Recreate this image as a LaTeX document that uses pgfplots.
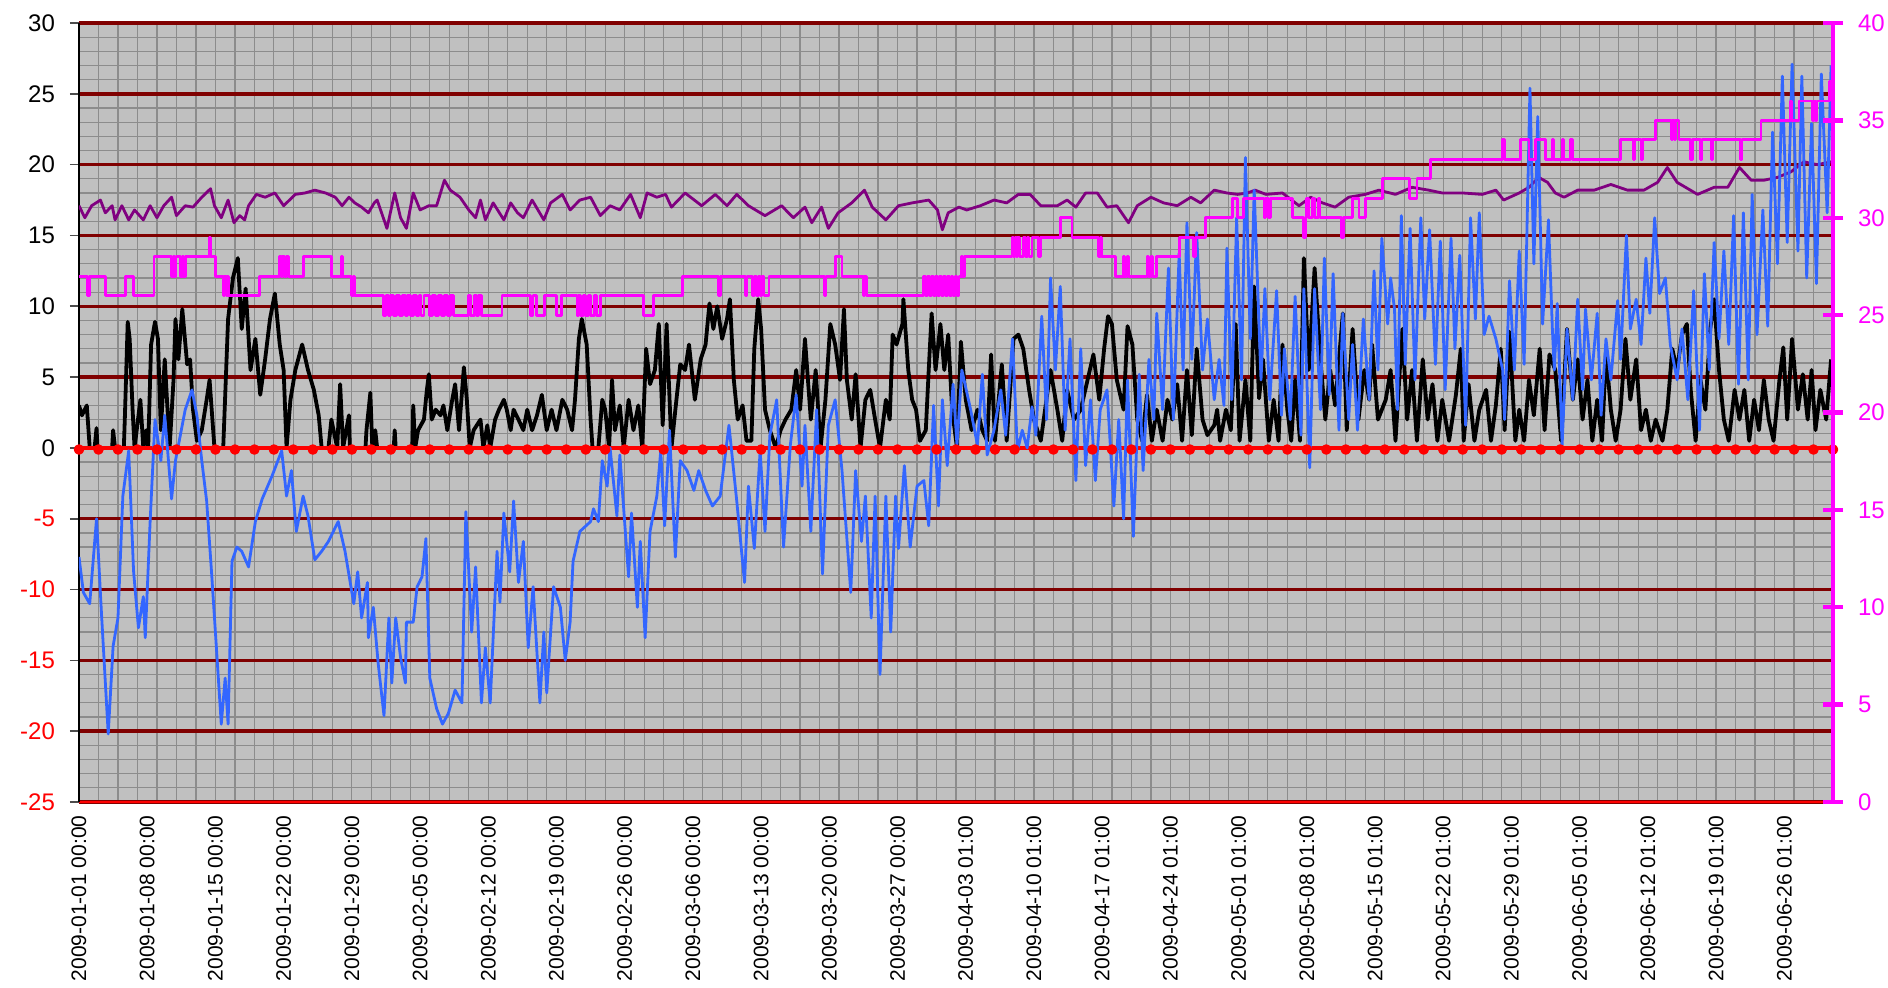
\documentclass[border=0pt]{standalone}
\usepackage{fontspec}
\setmainfont{Liberation Sans}
\usepackage{pgfplots}
\pgfplotsset{compat=1.18}
\definecolor{silverbg}{HTML}{C0C0C0}
\definecolor{gridgray}{HTML}{8C8C8C}
\definecolor{darkred}{HTML}{800000}
\definecolor{bluel}{HTML}{3366FF}
\definecolor{purp}{HTML}{800080}
\definecolor{magen}{HTML}{FF00FF}
\begin{document}
\begin{tikzpicture}
\begin{axis}[
  scale only axis, width=877pt, height=389.5pt,
  xmin=0, xmax=180, ymin=-25, ymax=30,
  axis background/.style={fill=silverbg},
  axis x line*=bottom, axis y line*=left,
  x axis line style={red, line width=0.6pt, -},
  y axis line style={black, line width=0.8pt, -},
  xtick={0,7,...,175},
  xticklabels={2009-01-01 00:00,2009-01-08 00:00,2009-01-15 00:00,2009-01-22 00:00,2009-01-29 00:00,2009-02-05 00:00,2009-02-12 00:00,2009-02-19 00:00,2009-02-26 00:00,2009-03-06 00:00,2009-03-13 00:00,2009-03-20 00:00,2009-03-27 00:00,2009-04-03 01:00,2009-04-10 01:00,2009-04-17 01:00,2009-04-24 01:00,2009-05-01 01:00,2009-05-08 01:00,2009-05-15 01:00,2009-05-22 01:00,2009-05-29 01:00,2009-06-05 01:00,2009-06-12 01:00,2009-06-19 01:00,2009-06-26 01:00},
  x tick label style={rotate=90, anchor=east, inner sep=2pt, font=\fontsize{10.5}{12}\selectfont},
  xtick style={draw=none},
  minor xtick={0,2,...,180},
  minor x tick style={draw=none},
  xminorgrids=true,
  ytick={-25,-20,...,30},
  yticklabels={\textcolor{red}{-25},\textcolor{red}{-20},\textcolor{red}{-15},\textcolor{red}{-10},\textcolor{red}{-5},0,5,10,15,20,25,30},
  y tick label style={font=\fontsize{12}{14}\selectfont, xshift=-4pt},
  minor ytick={-24,...,29},
  minor y tick style={draw=none},
  ytick style={black!70, line width=0.8pt},
  yminorgrids=true, ymajorgrids=true,
  tick align=outside,
  major tick length=4.5pt,
  minor grid style={gridgray, line width=0.6pt},
  major grid style={darkred, line width=1.7pt},
  clip=true,
  every axis plot/.append style={line join=round},
]
% purple
\addplot[purp, line width=1.4pt] coordinates {
(0,17.1) (0.6,16.25) (1.3,17.1) (2.2,17.5) (2.7,16.6) (3.4,17.1) (3.7,16.1) (4.4,17.1) (5.1,16.1) (5.7,16.8) (6.6,16.1) (7.3,17.1) (8,16.25) (8.7,17.1) (9.5,17.7) (10,16.4) (10.9,17.1) (11.7,17) (12.6,17.7) (13.5,18.3) (13.9,17.1) (14.6,16.25) (15.3,17.5) (15.9,15.9) (16.5,16.4) (17,16.1) (17.4,17.1) (18.2,17.9) (19.1,17.7) (20.1,18) (21,17.1) (22.2,17.9) (23.2,18) (24.2,18.2) (25.3,18) (26.3,17.7) (27,17.1) (27.7,17.7) (28.3,17.3) (29,17) (29.7,16.6) (30.3,17.3) (30.6,17.5) (31.6,15.5) (32.4,18) (33,16.25) (33.6,15.5) (34.3,18) (35,16.8) (35.9,17.1) (36.7,17.1) (37.5,18.9) (38.1,18.2) (39.1,17.7) (40,16.8) (40.7,16.25) (41.2,17.5) (41.7,16.1) (42.5,17.3) (43.6,16.1) (44.3,17.3) (45,16.6) (45.6,16.25) (46.5,17.5) (47.7,16.1) (48.4,17.3) (49.6,17.9) (50.4,16.8) (51.4,17.5) (52.5,17.7) (53.5,16.4) (54.5,17.1) (55.5,16.8) (56.6,17.9) (57.6,16.25) (58.3,18) (59.3,17.7) (60.2,17.9) (60.8,17) (62.2,18) (63.9,17.1) (65.3,17.9) (66.5,17.1) (67.5,17.9) (68.7,17.1) (70.4,16.4) (72.1,17.1) (73.3,16.25) (74.5,17) (75.2,15.9) (76.2,17) (76.9,15.5) (77.9,16.6) (79.3,17.3) (80.6,18.2) (81.4,17) (82.8,16.1) (84.1,17.1) (85.5,17.3) (87.2,17.5) (88.1,16.8) (88.6,15.4) (89.2,16.6) (90.3,17) (91.1,16.8) (92.5,17.1) (93.9,17.5) (95.2,17.3) (96.4,17.9) (97.6,17.9) (98.7,17.1) (100.4,17.1) (101.4,17.5) (102.3,17) (103.3,18) (104.5,18) (105.5,17) (106.5,17.1) (107.7,15.9) (108.6,17.1) (110,17.7) (111.3,17.3) (112.7,17.1) (114.1,17.7) (115.1,17.3) (116.5,18.2) (117.8,18) (118.9,17.9) (119.9,18) (120.7,18.2) (121.8,17.9) (123.5,18) (125.2,17.1) (126.4,17.7) (127.6,17.3) (128.9,17) (130.3,17.7) (132,17.9) (133.4,18.2) (135.1,17.9) (136.8,18.4) (138.5,18.2) (139.9,18) (142,18) (144,17.9) (145.4,18.2) (146.2,17.5) (147.8,18) (148.8,18.4) (149.8,19.1) (150.7,18.75) (151.5,18) (152.4,17.7) (153.8,18.2) (155.5,18.2) (157.2,18.6) (158.9,18.2) (160.6,18.2) (162,18.75) (163,19.8) (164,18.75) (166.1,17.9) (167.8,18.4) (169.2,18.4) (170.4,19.8) (171.6,18.9) (172.9,18.9) (174.3,19.1) (175.7,19.5) (177,20.2) (178.4,20) (179.8,20.2)
};
% black
\addplot[black, line width=1.9pt] coordinates {
(0,3) (0.3,2.3) (0.8,3) (1.1,0) (1.6,0) (1.8,1.4) (1.9,0) (3.4,0) (3.5,1.25) (3.7,0) (4.6,0) (4.7,2) (5,8.9) (5.2,7.7) (5.5,2.7) (5.7,0) (6.3,3.4) (6.6,0) (6.9,1.25) (7.1,0) (7.4,7.3) (7.8,8.9) (8.1,7.7) (8.4,1.25) (8.8,6.25) (9.3,0) (9.7,4.8) (9.9,9.1) (10.2,6.25) (10.6,9.8) (11.1,5.9) (11.4,6.25) (11.7,2.7) (12.1,0.5) (12.6,1.25) (13.1,3.4) (13.4,4.8) (13.9,0) (14.8,0) (15.3,9.1) (15.8,12) (16.3,13.4) (16.7,8.4) (17.1,11.25) (17.6,5.5) (18.1,7.7) (18.6,3.75) (19.1,6.25) (19.6,9.1) (20.1,10.9) (20.6,7.3) (21,5.5) (21.3,0) (21.7,3.4) (22.2,5.5) (22.9,7.3) (23.5,5.5) (24.1,4.1) (24.6,2.3) (24.9,0) (25.6,0) (25.9,2) (26.5,0) (26.8,4.5) (27.1,0) (27.7,2.3) (27.8,0) (29.4,0) (29.5,1.25) (29.9,3.9) (30.1,0) (30.4,1.25) (30.6,0) (32.3,0) (32.4,1.25) (32.5,0) (34.2,0) (34.3,3) (34.5,0) (34.8,1.25) (35.4,2) (35.7,4.1) (35.9,5.2) (36.2,2) (36.6,2.7) (37.1,2.3) (37.4,3) (37.8,1.25) (38.3,3.4) (38.6,4.5) (39,1.25) (39.5,5.7) (39.8,3.4) (40.1,0) (40.5,1.25) (41.2,2) (41.5,0) (41.9,1.6) (42.2,0) (42.7,2) (43.1,2.7) (43.6,3.4) (43.9,2.7) (44.3,1.25) (44.6,2.7) (45.1,2) (45.6,1.25) (46,2.7) (46.5,1.25) (47,2.3) (47.5,3.75) (48,1.25) (48.5,2.7) (49,1.25) (49.6,3.4) (50.1,2.7) (50.6,1.25) (50.9,3.4) (51.3,7.7) (51.6,9.1) (52.1,7.3) (52.5,2) (52.7,0) (53.3,0) (53.7,3.4) (54,2.7) (54.4,0) (54.7,4.8) (55,1.25) (55.5,3) (55.9,0) (56.4,3.4) (56.9,1.25) (57.4,3) (57.8,0) (58.2,7) (58.6,4.5) (59.1,5.5) (59.5,8.75) (59.9,1.6) (60.3,8.75) (60.8,0) (61.2,2.7) (61.7,5.9) (62.2,5.5) (62.6,7.3) (63.2,3.4) (63.8,6.25) (64.3,7.3) (64.7,10.2) (65.1,8.4) (65.5,10) (66,7.7) (66.5,9.1) (66.8,10.5) (67.2,4.8) (67.6,2) (68.1,3) (68.5,0.5) (69,0.5) (69.3,7) (69.7,10.5) (70,8.4) (70.4,2.7) (70.9,1.25) (71.5,0) (72,1.25) (72.5,2) (73.1,2.7) (73.6,5.5) (74,2.7) (74.5,7.7) (75.1,2) (75.6,5.5) (76.1,0) (76.6,3.4) (77.1,8.75) (77.6,7.3) (78.1,4.8) (78.5,9.8) (78.8,4.8) (79.3,2) (79.7,5.2) (80.2,0) (80.7,3.4) (81.2,4.1) (81.7,2) (82.2,0) (82.8,3.4) (83.2,2) (83.5,8) (83.9,7.3) (84.5,8.75) (84.6,10.5) (85.1,5.5) (85.5,3.4) (85.9,2.7) (86.3,0.5) (86.9,1.25) (87.2,5.5) (87.5,9.5) (87.9,5.5) (88.4,8.75) (88.8,5.5) (89.2,8) (89.6,2.7) (90.1,0) (90.5,7.5) (91,3.4) (91.6,1.25) (92.2,2.7) (92.7,1.25) (93.2,0.5) (93.6,6.6) (94,0.5) (94.7,5.9) (95.2,0.5) (95.9,7.7) (96.4,8) (96.9,7) (97.5,4.1) (98,2) (98.7,0.5) (99.2,3) (99.7,5.5) (100.4,2.7) (100.9,0.5) (101.4,4.1) (102.1,2) (102.8,2.7) (103.5,4.8) (104.1,6.6) (104.7,3.4) (105.2,7) (105.6,9.3) (106,8.75) (106.5,4.8) (107.2,2.7) (107.6,8.6) (108.1,7.3) (108.6,2) (109.1,0.5) (109.6,3.75) (110.1,0.5) (110.6,2.7) (111.2,0.5) (111.7,3.4) (112.2,2) (112.7,4.5) (113.2,0.5) (113.7,5.5) (114.2,0.9) (114.7,7) (115.3,2) (115.8,0.9) (116.5,1.6) (116.8,2.7) (117.1,0.5) (117.7,2.7) (118.2,1.25) (118.7,8.75) (119.1,0.5) (119.7,4.8) (120.2,0.5) (120.6,11.4) (121.1,3.5) (121.5,6.25) (122.1,0.5) (122.6,3.4) (123.1,0.5) (123.5,7.3) (124,2.7) (124.4,0.5) (124.8,4.8) (125.3,0.5) (125.7,13.4) (126.2,5.5) (126.8,12.7) (127.4,6.25) (127.9,2) (128.4,5.5) (128.9,3) (129.7,9.5) (130.1,1.25) (130.7,8.4) (131.3,2) (131.9,5.5) (132.4,3.4) (132.7,7.3) (133.3,2) (134.1,3.4) (134.6,5.5) (135.1,0.5) (135.8,8.4) (136.3,2) (136.8,5.5) (137.3,0.5) (137.9,6.25) (138.4,2) (138.9,4.5) (139.4,0.5) (139.9,3.4) (140.6,0.5) (141.3,3.75) (141.8,7) (142.1,0.5) (142.6,4.5) (143.2,0.5) (143.7,2.7) (144.4,4.1) (144.9,0.5) (145.4,3) (145.9,7) (146.3,1.25) (146.8,8.2) (147.4,0.5) (147.8,2.7) (148.3,0.5) (148.8,4.8) (149.3,2.3) (149.9,7) (150.4,1.25) (150.9,6.6) (151.5,5.5) (152.1,0.5) (152.7,8.4) (153.3,3.4) (153.8,6.25) (154.3,2) (154.8,4.8) (155.3,0.5) (155.8,3.4) (156.3,0.5) (156.7,6.8) (157.2,2.7) (157.7,0.5) (158.2,2.7) (158.7,7.7) (159.2,3.4) (159.8,6.25) (160.3,1.25) (160.8,2.7) (161.3,0.5) (161.8,2) (162.5,0.5) (163,2.7) (163.5,7) (164,5.5) (164.5,8) (165,8.75) (165.4,4.1) (165.9,0.5) (166.4,4.8) (166.9,2.7) (167.4,8.4) (167.8,10.5) (168.3,5.5) (168.8,2) (169.3,0.5) (169.9,4.1) (170.4,2) (170.9,4.1) (171.4,0.5) (171.9,3.4) (172.4,1.25) (172.9,4.8) (173.4,2) (173.9,0.5) (174.5,4.8) (174.9,7.1) (175.3,2) (175.8,7.7) (176.4,2.7) (176.9,5.2) (177.4,2) (177.8,5.5) (178.2,1.25) (178.7,4.1) (179.3,2) (179.8,6.25)
};
% red zero line
\addplot[red, line width=2pt, mark=*, mark size=1.6pt, mark options={red, fill=red, yshift=-0.8pt}] coordinates {
(0,0) (2,0) (4,0) (6,0) (8,0) (10,0) (12,0) (14,0) (16,0) (18,0) (20,0) (22,0) (24,0) (26,0) (28,0) (30,0) (32,0) (34,0) (36,0) (38,0) (40,0) (42,0) (44,0) (46,0) (48,0) (50,0) (52,0) (54,0) (56,0) (58,0) (60,0) (62,0) (64,0) (66,0) (68,0) (70,0) (72,0) (74,0) (76,0) (78,0) (80,0) (82,0) (84,0) (86,0) (88,0) (90,0) (92,0) (94,0) (96,0) (98,0) (100,0) (102,0) (104,0) (106,0) (108,0) (110,0) (112,0) (114,0) (116,0) (118,0) (120,0) (122,0) (124,0) (126,0) (128,0) (130,0) (132,0) (134,0) (136,0) (138,0) (140,0) (142,0) (144,0) (146,0) (148,0) (150,0) (152,0) (154,0) (156,0) (158,0) (160,0) (162,0) (164,0) (166,0) (168,0) (170,0) (172,0) (174,0) (176,0) (178,0) (180,0)
};
% blue
\addplot[bluel, line width=1.4pt] coordinates {
(0,-7.7) (0.45,-10.2) (1.1,-11) (1.8,-5) (2.3,-11.6) (3,-20.2) (3.5,-14) (4,-12) (4.5,-3.4) (5.1,-0.2) (5.6,-8.7) (6.1,-12.7) (6.6,-10.5) (6.8,-13.4) (7.3,-5.2) (7.8,2) (8.4,-0.9) (8.8,2.3) (9.5,-3.6) (9.9,-0.9) (10.9,2.7) (11.6,4.1) (12.1,2.3) (12.6,-0.9) (13.1,-3.75) (13.6,-8.75) (14.1,-14.1) (14.6,-19.5) (15,-16.25) (15.3,-19.5) (15.7,-8) (16.2,-7) (16.7,-7.3) (17.4,-8.4) (18.1,-5.2) (18.8,-3.6) (19.8,-2) (20.8,-0.2) (21.3,-3.4) (21.8,-1.6) (22.3,-5.9) (23,-3.4) (23.5,-4.8) (24.2,-7.9) (24.9,-7.3) (25.6,-6.6) (26.6,-5.2) (27.3,-7.3) (28.2,-11) (28.6,-8.75) (29,-12) (29.6,-9.5) (29.7,-13.4) (30.2,-11.25) (30.7,-15.2) (31.3,-18.9) (31.8,-12) (32.1,-16.6) (32.5,-12) (33,-14.8) (33.5,-16.6) (33.6,-12.3) (34.3,-12.3) (34.7,-9.8) (35.2,-9.1) (35.6,-6.4) (36,-16.25) (36.7,-18.4) (37.3,-19.5) (37.9,-18.75) (38.6,-17.1) (39.3,-18) (39.7,-4.5) (40.3,-13) (40.7,-8.4) (41.3,-18) (41.7,-14.1) (42.2,-18) (42.9,-7.3) (43.2,-10.9) (43.6,-4.6) (44.2,-8.75) (44.6,-3.75) (45.1,-9.5) (45.6,-6.6) (46.1,-14.1) (46.6,-9.8) (47.3,-18) (47.7,-13) (48,-17.3) (48.7,-9.8) (49.4,-11.25) (49.9,-15) (50.4,-12.3) (50.7,-8) (51.4,-5.9) (52.5,-5.2) (52.8,-4.3) (53.3,-5.2) (53.7,-0.9) (54.2,-2.7) (54.5,0) (55.2,-4.8) (55.5,-0.5) (56.4,-9.1) (56.7,-4.6) (57.3,-11.25) (57.6,-6.6) (58.1,-13.4) (58.6,-5.9) (59.3,-3.4) (59.7,-0.2) (60.1,-5.5) (60.6,1.25) (61.2,-7.7) (61.7,-0.9) (62.4,-1.6) (63.1,-3) (63.6,-1.6) (64.3,-3) (65,-4.1) (65.8,-3.4) (66.7,1.6) (67.5,-3.75) (68.3,-9.5) (68.7,-2.7) (69.3,-7.1) (69.9,-0.2) (70.4,-5.9) (70.9,0.9) (71.6,3.4) (72.3,-7) (73,0.2) (73.6,3.75) (74.2,-2.7) (74.5,1.6) (75.1,-5.9) (75.7,2.7) (76.3,-8.9) (76.9,1.6) (77.6,3.4) (78.3,-1.6) (79.2,-10.2) (79.7,-1.6) (80.3,-6.6) (80.7,-3.4) (81.3,-12) (81.7,-3.4) (82.2,-16) (82.8,-3.4) (83.3,-13) (83.8,-3.4) (84.1,-7.1) (84.7,-1.25) (85.3,-7) (86,-2.7) (86.7,-2.3) (87.2,-5.5) (87.7,3) (88.2,-4.1) (88.6,3.4) (89.1,-1.25) (89.7,4.5) (90.1,0.2) (90.6,5.5) (91.5,2.7) (92.2,0.2) (92.7,5.2) (93.2,-0.5) (93.9,1.25) (94.6,4.1) (95.1,0.9) (95.8,7.7) (96.3,-0.2) (96.8,1.25) (97.3,0) (97.8,2.9) (98.2,0.9) (98.8,9.3) (99.3,2) (99.7,12) (100.2,5.5) (100.7,11.4) (101.2,1.25) (101.7,7.7) (102.3,-2.3) (102.8,7) (103.3,-1.25) (103.8,3.4) (104.3,-2.3) (104.8,2.7) (105.5,4.1) (106.2,-4.1) (106.7,2) (107.2,-5) (107.6,4.8) (108.2,-6.25) (108.8,5.2) (109.2,-1.6) (109.8,6.25) (110.3,2) (110.6,9.5) (111.2,2.7) (111.8,12.7) (112.3,2) (112.9,13.75) (113.3,5.5) (113.7,15.9) (114.2,6.25) (114.7,15.2) (115.3,5.5) (115.8,9.1) (116.5,3.4) (117,6.25) (117.5,3) (117.8,14.1) (118.3,3.4) (118.8,16.25) (119.3,4.8) (119.7,20.5) (120.2,7.7) (120.6,18.2) (121.3,4.8) (121.7,11.25) (122.2,3.4) (122.9,11.1) (123.4,2.3) (123.7,7) (124.3,2) (124.8,10.7) (125.4,0.9) (125.7,11.25) (126.3,-1.4) (126.8,11.25) (127.4,2.7) (127.8,13.4) (128.3,3.75) (128.7,12.3) (129.3,1.25) (129.7,9.5) (130.3,2) (130.7,7.3) (131.2,1.25) (131.8,9.1) (132.4,3.4) (132.9,12.5) (133.3,5.5) (133.7,14.8) (134.3,8.75) (134.6,12) (135,9.8) (135.3,2.7) (135.7,16.4) (136.1,5.9) (136.6,15.5) (137.1,4.8) (137.7,16.25) (138.1,9.1) (138.6,15.4) (139.2,5.9) (139.7,14.6) (140.2,4.1) (140.8,14.8) (141.2,7) (141.7,13.6) (142.3,1.6) (142.8,16.25) (143.3,9.1) (143.7,16.6) (144.2,8) (144.7,9.3) (145.4,7.7) (146.1,5.5) (146.3,2) (146.8,11.8) (147.3,5.5) (147.8,13.9) (148.3,5.9) (148.9,25.4) (149.3,13) (149.7,23.4) (150.2,8.75) (150.8,16.1) (151.2,8.4) (151.4,5.5) (151.7,10.2) (152.2,0.2) (152.7,8.4) (153.3,3.4) (153.8,10.5) (154.3,4.1) (154.6,9.8) (155.2,4.8) (155.8,9.5) (156.2,2.3) (156.7,7.7) (157.2,4.8) (157.9,10.4) (158.2,6.25) (158.8,15) (159.2,8.4) (159.8,10.5) (160.3,7.3) (160.8,13.4) (161.2,9.5) (161.7,16.25) (162.2,10.9) (162.8,12) (163.3,7.3) (164,4.8) (164.5,8.4) (165.1,3.4) (165.7,11.1) (166.3,1.25) (166.8,12.3) (167.3,5.5) (167.8,14.5) (168.3,7.7) (168.8,13.9) (169.3,7.3) (169.8,16.4) (170.3,4.5) (170.8,16.6) (171.3,4.8) (171.7,17.9) (172.2,8) (172.8,16.8) (173.3,8.6) (173.8,22.3) (174.3,13) (174.8,26.25) (175.3,14.5) (175.8,27.1) (176.4,13.9) (176.8,26.25) (177.3,12) (177.8,22.9) (178.3,11.6) (178.8,26.4) (179.4,16.6) (179.8,27)
};
\end{axis}
\begin{axis}[
  scale only axis, width=877pt, height=389.5pt,
  xmin=0, xmax=180, ymin=0, ymax=40,
  axis x line=none,
  axis y line*=right,
  y axis line style={magen, line width=2.2pt, -},
  ytick={0,5,...,40},
  ytick style={magen, line width=2.2pt},
  tick align=center,
  major tick length=10pt,
  y tick label style={magen, font=\fontsize{12}{14}\selectfont, xshift=4pt},
  /pgf/number format/assume math mode=true,
  every axis plot/.append style={line join=round},
]
\addplot[magen, line width=1.4pt, const plot] coordinates {
(0,27) (0.9,26) (1.05,27) (2.7,26) (4.8,27) (5.6,26) (7.7,28) (9.5,27) (9.7,28) (9.8,27) (9.95,28) (10.4,27) (10.6,28) (10.7,27) (10.9,28) (13.4,29) (13.5,28) (14.0,27) (14.8,26) (14.95,27) (15.1,26) (15.25,27) (15.35,26) (18.5,27) (20.6,28) (20.75,27) (20.9,28) (21.1,27) (21.3,28) (21.5,27) (23.0,28) (25.9,27) (26.9,28) (27.05,27) (28.0,26) (28.15,27) (28.3,26)
(31.25,25) (31.5,26) (31.8,25) (32.0,26) (32.3,25) (32.6,26) (32.9,25) (33.2,26) (33.5,25) (33.7,26) (34.0,25) (34.3,26) (34.6,25) (34.9,26) (35.1,25) (35.4,26)
(36.0,25) (36.3,26) (36.6,25) (36.9,26) (37.2,25) (37.5,26) (37.8,25) (38.1,26) (38.4,25) (40.0,26) (40.2,25) (40.6,26) (40.8,25) (41.0,26) (41.3,25) (43.4,26) (46.3,25) (46.6,26) (46.95,25) (47.8,26) (49.0,25) (49.5,26)
(51.1,25) (51.3,26) (51.5,25) (51.8,26) (52.0,25) (52.3,26) (52.5,25) (52.9,26) (53.1,25) (53.5,26) (57.9,25) (58.95,26)
(61.9,27) (65.6,26) (65.8,27) (68.4,26) (68.55,27) (69.1,26) (69.3,27) (69.5,26) (69.7,27) (69.9,26) (70.1,27) (70.3,26) (70.8,27) (76.5,26) (76.65,27) (77.6,28) (78.3,27) (80.5,26) (80.65,27) (80.8,26)
(86.7,27) (86.9,26) (87.1,27) (87.3,26) (87.5,27) (87.7,26) (87.9,27) (88.1,26) (88.3,27) (88.5,26) (88.7,27) (88.9,26) (89.1,27) (89.3,26) (89.5,27) (89.7,26) (89.9,27) (90.1,26) (90.3,27) (90.6,28) (90.7,27) (90.9,28)
(95.75,29) (95.9,28) (96.05,29) (96.2,28) (96.35,29) (96.5,28) (96.9,29) (97.1,28) (97.3,29) (97.5,28) (97.8,29) (98.5,28) (98.65,29) (100.7,30) (101.9,29) (104.65,28) (104.8,29) (104.95,28) (106.4,27) (107.2,28) (107.3,27) (107.55,28) (107.7,27) (109.6,28) (109.75,27) (110.0,28) (110.15,27) (110.6,28) (112.9,29) (114.4,28) (114.55,29) (115.6,30) (118.35,31) (118.9,30) (119.5,31)
(121.6,30) (121.75,31) (122.1,30) (122.25,31) (124.5,30) (125.7,29) (125.85,30) (126.0,31) (126.15,30) (126.6,31) (126.75,30) (127.2,31) (127.35,30) (129.6,29) (129.75,30) (130.7,31) (131.35,30) (132.0,31) (133.75,32) (136.5,31) (137.3,32) (138.7,33) (146.1,34) (146.25,33) (147.95,34) (148.8,33) (149.5,34) (150.5,33)
(151.2,34) (151.35,33) (152.2,34) (152.35,33) (153.1,34) (153.25,33) (158.2,34) (159.5,33) (159.65,34) (160.3,33) (160.45,34) (161.8,35) (163.4,34) (163.55,35) (163.7,34) (163.85,35) (164.2,34) (165.4,33) (165.55,34) (166.4,33) (166.55,34) (167.5,33) (167.65,34) (170.5,33) (170.65,34) (172.6,35) (175.6,36) (175.75,35) (176.5,36) (177.9,35) (178.05,36) (178.2,35) (178.35,36) (179.6,37) (179.9,37)
};
\end{axis}
\pgfresetboundingbox
\path (-39.5pt,-92.5pt) rectangle (904.5pt,401pt);
\end{tikzpicture}
\end{document}
